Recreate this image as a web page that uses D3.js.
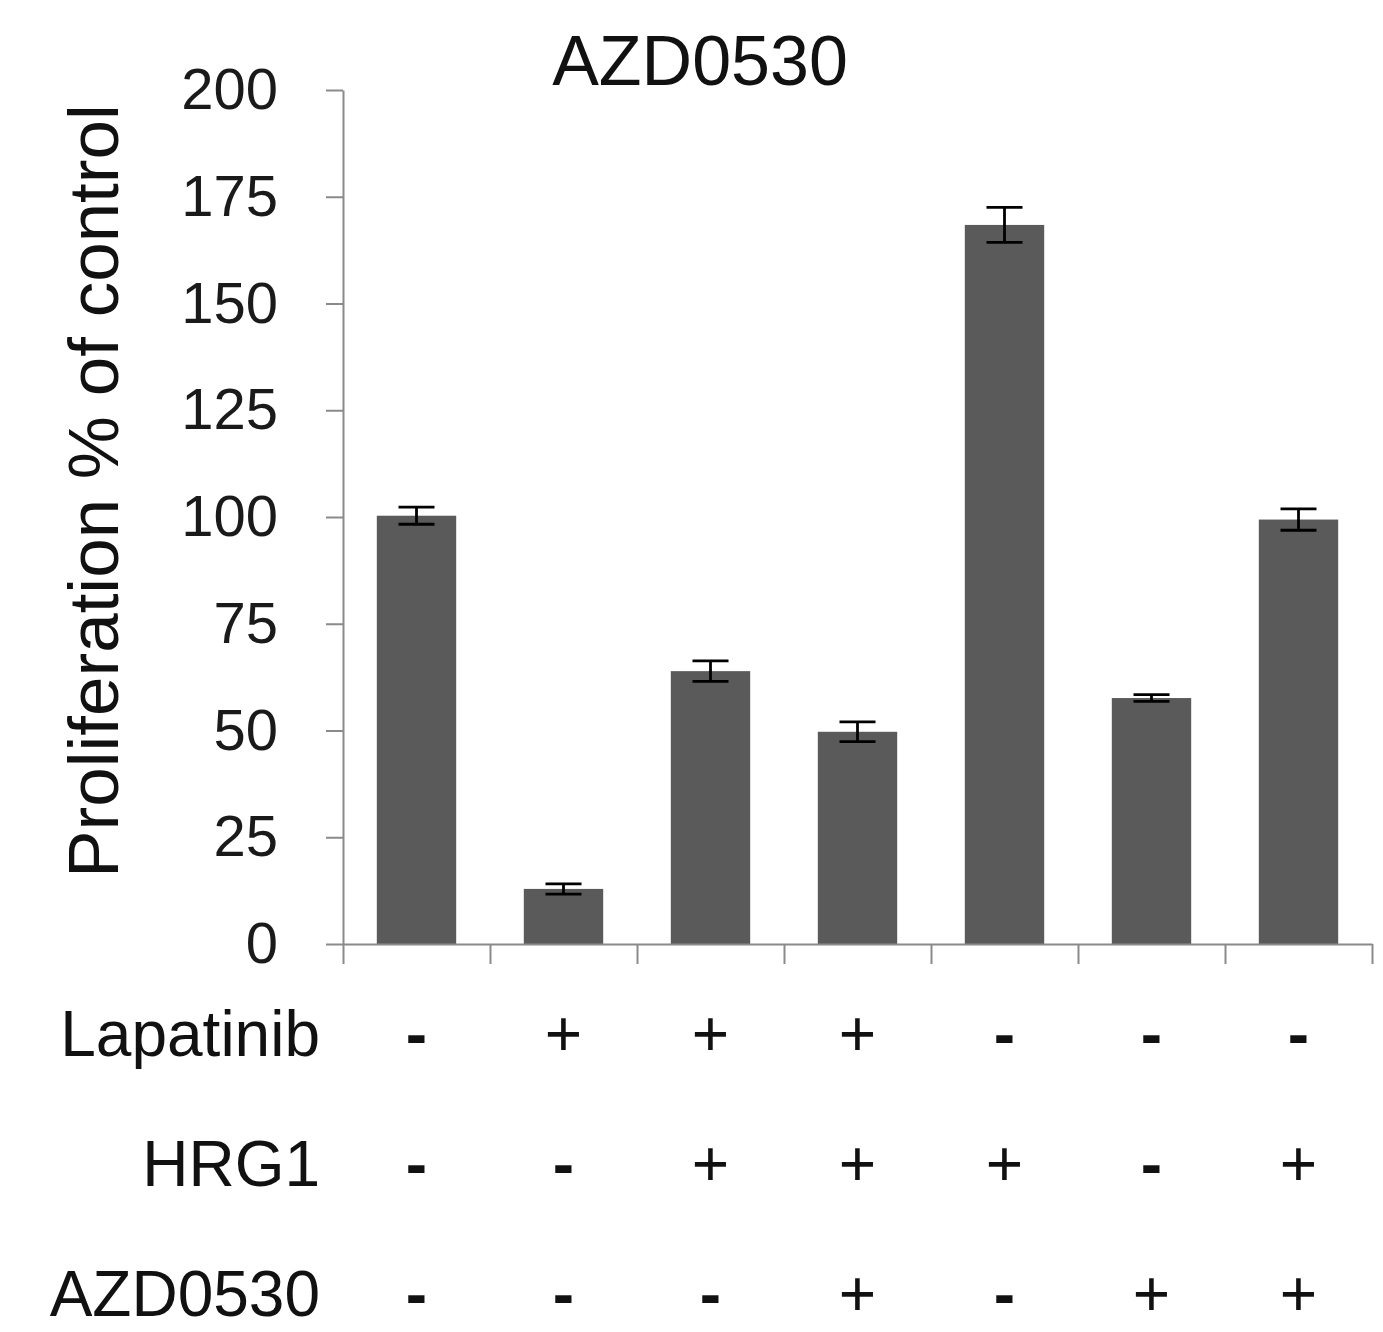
<!DOCTYPE html>
<html>
<head>
<meta charset="utf-8">
<script src="https://cdn.jsdelivr.net/npm/d3@7"></script>
<style>
  html, body { margin: 0; padding: 0; background: #fff; }
  svg { display: block; font-family: "Liberation Sans", Arial, sans-serif; }
</style>
</head>
<body>
<svg id="chart" width="1383" height="1332"></svg>
<script>
// ---- data ----
const categories = ["c1", "c2", "c3", "c4", "c5", "c6", "c7"];
const values = [100.3, 12.9, 63.9, 49.7, 168.4, 57.6, 99.4];
const errors = [2.0, 1.2, 2.4, 2.3, 4.1, 0.8, 2.5];
const yTicks = [0, 25, 50, 75, 100, 125, 150, 175, 200];
const rowLabels = ["Lapatinib", "HRG1", "AZD0530"];
const lapatinib = ["-", "+", "+", "+", "-", "-", "-"];
const hrg1 = ["-", "-", "+", "+", "+", "-", "+"];
const azd0530 = ["-", "-", "-", "+", "-", "+", "+"];
const title = "AZD0530";
const yLabel = "Proliferation % of control";

// ---- layout ----
const svg = d3.select("#chart");
const x0 = 343, x1 = 1372, yBottom = 944, yTop = 90;

const x = d3.scaleBand().domain(categories).range([x0, x1])
  .paddingInner(0.46).paddingOuter(0.23);
const xEdge = d3.scaleLinear().domain([0, categories.length]).range([x0, x1]);
const y = d3.scaleLinear().domain([0, 200]).range([yBottom, yTop]);

const axisColor = "#8a8a8a";

// bars
svg.append("g").selectAll("rect").data(values).join("rect")
  .attr("x", (d, i) => x(categories[i]))
  .attr("y", d => y(d))
  .attr("width", x.bandwidth())
  .attr("height", d => y(0) - y(d))
  .attr("fill", "#5a5a5a");

// y axis
const gy = svg.append("g").attr("transform", `translate(${x0},0)`)
  .call(d3.axisLeft(y).tickValues(yTicks).tickSize(17).tickPadding(48).tickSizeOuter(0));
gy.select(".domain").attr("stroke", axisColor).attr("stroke-width", 2);
gy.selectAll(".tick line").attr("stroke", axisColor).attr("stroke-width", 2);
gy.selectAll(".tick text").attr("font-size", 58).attr("fill", "#1a1a1a")
  .attr("font-family", "Liberation Sans, Arial, sans-serif");

// x axis (category boundary ticks)
const gx = svg.append("g").attr("transform", `translate(0,${yBottom})`)
  .call(d3.axisBottom(xEdge).tickValues(d3.range(categories.length + 1))
    .tickFormat("").tickSize(20).tickSizeOuter(0));
gx.select(".domain").attr("stroke", axisColor).attr("stroke-width", 2);
gx.selectAll(".tick line").attr("stroke", axisColor).attr("stroke-width", 2);

// error bars
const cap = 36;
const eg = svg.append("g").attr("stroke", "#000").attr("stroke-width", 2.8).attr("fill", "none");
values.forEach((v, i) => {
  const cx = x(categories[i]) + x.bandwidth() / 2;
  const hi = y(v + errors[i]), lo = y(v - errors[i]);
  eg.append("line").attr("x1", cx).attr("x2", cx).attr("y1", hi).attr("y2", lo);
  eg.append("line").attr("x1", cx - cap / 2).attr("x2", cx + cap / 2).attr("y1", hi).attr("y2", hi);
  eg.append("line").attr("x1", cx - cap / 2).attr("x2", cx + cap / 2).attr("y1", lo).attr("y2", lo);
});

// title
svg.append("text").attr("x", 700).attr("y", 85).attr("text-anchor", "middle")
  .attr("font-size", 70).attr("fill", "#111").text(title);

// y label
svg.append("text").attr("transform", "translate(118,491) rotate(-90)")
  .attr("text-anchor", "middle").attr("font-size", 71).attr("fill", "#111").text(yLabel);

// treatment rows
const rows = [lapatinib, hrg1, azd0530];
const rowBase = [1056, 1186, 1316];
rows.forEach((row, r) => {
  svg.append("text").attr("x", 320).attr("y", rowBase[r]).attr("text-anchor", "end")
    .attr("font-size", 64).attr("fill", "#111").text(rowLabels[r]);
  svg.append("g").selectAll("text").data(row).join("text")
    .attr("x", (d, i) => x(categories[i]) + x.bandwidth() / 2)
    .attr("y", rowBase[r])
    .attr("text-anchor", "middle")
    .attr("font-size", 64)
    .attr("font-weight", d => d === "-" ? "bold" : "normal")
    .attr("fill", "#111")
    .text(d => d);
});
</script>
</body>
</html>
